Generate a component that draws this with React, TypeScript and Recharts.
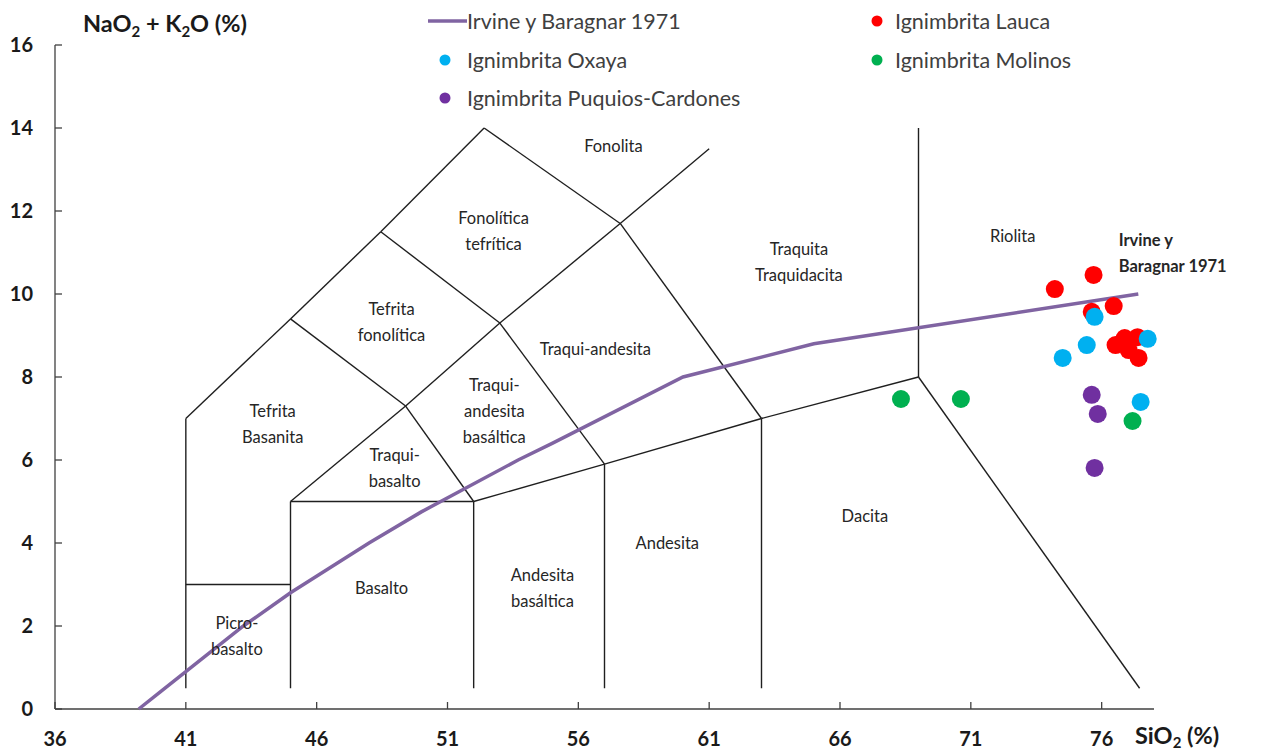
import React from 'react';
import { ComposedChart, Scatter, XAxis, YAxis, ReferenceLine, Legend } from 'recharts';

const xTicks = [36, 41, 46, 51, 56, 61, 66, 71, 76];
const yTicks = [0, 2, 4, 6, 8, 10, 12, 14, 16];

const irvineBaragar = [
  { x: 39.2, y: 0 }, { x: 40, y: 0.4 }, { x: 43.2, y: 2 }, { x: 45, y: 2.8 },
  { x: 48, y: 4 }, { x: 50, y: 4.75 }, { x: 53.7, y: 6 }, { x: 55, y: 6.4 },
  { x: 60, y: 8 }, { x: 65, y: 8.8 }, { x: 77.4, y: 10 },
];

const lauca = [
  { x: 74.21, y: 10.12 }, { x: 75.69, y: 10.46 }, { x: 76.46, y: 9.71 }, { x: 75.62, y: 9.57 },
  { x: 76.53, y: 8.77 }, { x: 76.88, y: 8.94 }, { x: 77.37, y: 8.96 }, { x: 77.03, y: 8.65 },
  { x: 77.41, y: 8.46 },
];
const oxaya = [
  { x: 75.73, y: 9.45 }, { x: 75.43, y: 8.77 }, { x: 74.51, y: 8.46 }, { x: 77.76, y: 8.92 },
  { x: 77.49, y: 7.4 },
];
const molinos = [
  { x: 68.33, y: 7.47 }, { x: 70.62, y: 7.47 }, { x: 77.18, y: 6.94 },
];
const puquios = [
  { x: 75.62, y: 7.57 }, { x: 75.85, y: 7.11 }, { x: 75.73, y: 5.81 },
];

// TAS field boundaries: [x1, y1, x2, y2]
const boundaries = [
  [41, 0.5, 41, 7], [41, 3, 45, 3], [45, 0.5, 45, 5], [45, 5, 52, 5], [52, 0.5, 52, 5],
  [52, 5, 57, 5.9], [57, 0.5, 57, 5.9], [57, 5.9, 63, 7], [63, 0.5, 63, 7], [63, 7, 69, 8],
  [69, 8, 69, 14], [69, 8, 77.45, 0.5], [45, 5, 49.4, 7.3], [49.4, 7.3, 52, 5],
  [41, 7, 45, 9.4], [45, 9.4, 49.4, 7.3], [49.4, 7.3, 53, 9.3], [53, 9.3, 57, 5.9],
  [45, 9.4, 48.45, 11.5], [48.45, 11.5, 53, 9.3], [53, 9.3, 57.6, 11.7], [57.6, 11.7, 63, 7],
  [48.45, 11.5, 52.4, 14], [52.4, 14, 57.6, 11.7], [57.6, 11.7, 61, 13.5],
];

const fieldLabels = [
  { x: 57.34, y: 13.57, lines: ['Fonolita'] },
  { x: 52.76, y: 11.52, lines: ['Fonolítica', 'tefrítica'] },
  { x: 48.86, y: 9.33, lines: ['Tefrita', 'fonolítica'] },
  { x: 56.65, y: 8.67, lines: ['Traqui-andesita'] },
  { x: 64.43, y: 10.77, lines: ['Traquita', 'Traquidacita'] },
  { x: 72.6, y: 11.4, lines: ['Riolita'] },
  { x: 44.32, y: 6.87, lines: ['Tefrita', 'Basanita'] },
  { x: 52.79, y: 7.18, lines: ['Traqui-', 'andesita', 'basáltica'] },
  { x: 48.98, y: 5.81, lines: ['Traqui-', 'basalto'] },
  { x: 66.95, y: 4.65, lines: ['Dacita'] },
  { x: 59.4, y: 4.0, lines: ['Andesita'] },
  { x: 48.48, y: 2.92, lines: ['Basalto'] },
  { x: 54.63, y: 2.92, lines: ['Andesita', 'basáltica'] },
  { x: 42.95, y: 1.76, lines: ['Picro-', 'basalto'] },
];
const noteLabels = [{ x: 76.65, y: 10.98, lines: ['Irvine y', 'Baragnar 1971'] }];

const legendItems = [
  { name: 'Irvine y Baragnar 1971', color: '#8064A2', kind: 'line', col: 0, row: 0 },
  { name: 'Ignimbrita Lauca', color: '#FF0000', kind: 'dot', col: 1, row: 0 },
  { name: 'Ignimbrita Oxaya', color: '#00B0F0', kind: 'dot', col: 0, row: 1 },
  { name: 'Ignimbrita Molinos', color: '#00B050', kind: 'dot', col: 1, row: 1 },
  { name: 'Ignimbrita Puquios-Cardones', color: '#7030A0', kind: 'dot', col: 0, row: 2 },
];

const FONT = 'Lato, "Open Sans", sans-serif';
const LINE_H = 26;

const makeTextShape = (size: number, weight: string, anchor: string) => (props: any) => {
  const { cx, cy, payload } = props;
  const lines: string[] = payload.lines;
  const top = cy - ((lines.length - 1) * LINE_H) / 2;
  return (
    <text x={cx} y={top} textAnchor={anchor} dominantBaseline="central" fontFamily={FONT}
      fontSize={size} fontWeight={weight} fill="#262626">
      {lines.map((l, i) => (
        <tspan key={i} x={cx} y={top + i * LINE_H}>{l}</tspan>
      ))}
    </text>
  );
};

const EmptyShape = () => <g />;

const renderLegend = () => {
  const colX = [417, 842];
  const rowY = [13, 51.5, 89.5];
  return (
    <div style={{ position: 'relative', width: 1256, height: 110, fontFamily: FONT }}>
      {legendItems.map((it) => {
        const x0 = colX[it.col];
        const y0 = rowY[it.row];
        return (
          <div key={it.name} style={{ position: 'absolute', left: x0, top: y0 - 14, height: 28, display: 'flex', alignItems: 'center' }}>
            <svg width={42} height={28} style={{ display: 'block' }}>
              {it.kind === 'line' ? (
                <line x1={3} y1={14} x2={42} y2={14} stroke={it.color} strokeWidth={3.5} />
              ) : (
                <circle cx={it.col === 0 ? 20 : 27} cy={14} r={5.5} fill={it.color} />
              )}
            </svg>
            <span style={{ fontSize: 21.5, color: '#404040', marginLeft: it.col === 0 ? 0 : 3, whiteSpace: 'nowrap' }}>{it.name}</span>
          </div>
        );
      })}
    </div>
  );
};

const YTitle = (props: any) => {
  const vb = props.viewBox;
  const x = vb.x + vb.width + 28;
  const y = vb.y - 13;
  return (
    <text x={x} y={y} fontFamily={FONT} fontSize={23.5} fontWeight="bold" fill="#1a1a1a">
      NaO<tspan fontSize={15} dy={5}>2</tspan><tspan dy={-5}> + K</tspan><tspan fontSize={15} dy={5}>2</tspan><tspan dy={-5}>O (%)</tspan>
    </text>
  );
};

const XTitle = (props: any) => {
  const vb = props.viewBox;
  const x = vb.x + vb.width - 19;
  const y = vb.y + 35;
  return (
    <text x={x} y={y} fontFamily={FONT} fontSize={23.5} fontWeight="bold" fill="#1a1a1a">
      SiO<tspan fontSize={15} dy={4}>2</tspan><tspan dy={-4}> (%)</tspan>
    </text>
  );
};

const tickStyle = { fontFamily: FONT, fontSize: 20, fontWeight: 'bold', fill: '#1a1a1a' };

export default function App() {
  return (
    <ComposedChart width={1256} height={744} margin={{ top: 37, right: 110, left: 0, bottom: 0 }}>
      <XAxis type="number" dataKey="x" domain={[36, 78]} ticks={xTicks} interval={0}
        tickSize={-7} tickMargin={30} tick={tickStyle} height={43}
        axisLine={{ stroke: '#404040', strokeWidth: 1.3 }} tickLine={{ stroke: '#404040', strokeWidth: 1.3 }}
        label={<XTitle />} />
      <YAxis type="number" dataKey="y" domain={[0, 16]} ticks={yTicks} interval={0}
        tickSize={-7} tickMargin={29} tick={tickStyle} width={47}
        axisLine={{ stroke: '#404040', strokeWidth: 1.3 }} tickLine={{ stroke: '#404040', strokeWidth: 1.3 }}
        label={<YTitle />} />
      {boundaries.map((b, i) => (
        <ReferenceLine key={i} segment={[{ x: b[0], y: b[1] }, { x: b[2], y: b[3] }]}
          stroke="#1f1f1f" strokeWidth={1.4} ifOverflow="visible" />
      ))}
      <Scatter name="Irvine y Baragnar 1971" data={irvineBaragar} line={{ stroke: '#8064A2', strokeWidth: 3.5 }}
        lineType="joint" shape={EmptyShape} isAnimationActive={false} />
      <Scatter name="fields" data={fieldLabels} shape={makeTextShape(16.5, 'normal', 'middle')} isAnimationActive={false} />
      <Scatter name="note" data={noteLabels} shape={makeTextShape(16.5, 'bold', 'start')} isAnimationActive={false} />
      <Scatter name="Ignimbrita Lauca" data={lauca} fill="#FF0000" shape={(p: any) => <circle cx={p.cx} cy={p.cy} r={9} fill="#FF0000" />} isAnimationActive={false} />
      <Scatter name="Ignimbrita Oxaya" data={oxaya} fill="#00B0F0" shape={(p: any) => <circle cx={p.cx} cy={p.cy} r={9} fill="#00B0F0" />} isAnimationActive={false} />
      <Scatter name="Ignimbrita Molinos" data={molinos} fill="#00B050" shape={(p: any) => <circle cx={p.cx} cy={p.cy} r={9} fill="#00B050" />} isAnimationActive={false} />
      <Scatter name="Ignimbrita Puquios-Cardones" data={puquios} fill="#7030A0" shape={(p: any) => <circle cx={p.cx} cy={p.cy} r={9} fill="#7030A0" />} isAnimationActive={false} />
      <Legend layout="vertical" align="center" verticalAlign="middle" content={renderLegend}
        wrapperStyle={{ top: 0, left: 0, width: 1256, height: 110 }} />
    </ComposedChart>
  );
}
